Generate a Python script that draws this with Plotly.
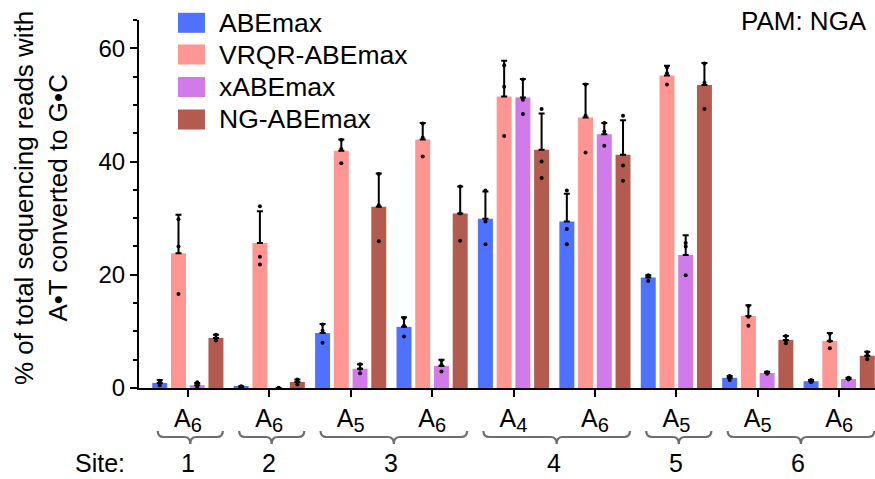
import plotly.graph_objects as go

# ---------------- data ----------------
group_subs = ["6", "6", "5", "6", "4", "6", "5", "5", "6"]
site_names = ["1", "2", "3", "4", "5", "6"]
site_groups = [[0], [1], [2, 3], [4, 5], [6], [7, 8]]

series_names = ["ABEmax", "VRQR-ABEmax", "xABEmax", "NG-ABEmax"]
series_colors = ["#4F71FF", "#FF9691", "#D17BEA", "#B25B4E"]

abemax_mean = [0.9, 0.2, 9.7, 10.8, 29.9, 29.4, 19.5, 1.8, 1.2]
abemax_sd = [0.5, 0.1, 1.6, 1.7, 4.8, 4.9, 0.4, 0.3, 0.2]
abemax_reps = [[1.3, 1.0, 0.5], [0.3, 0.2, 0.1], [11.2, 10.1, 8.0], [12.3, 11.0, 9.1],
               [34.9, 29.4, 25.4], [34.9, 28.1, 25.4], [19.9, 19.7, 18.9], [2.1, 1.9, 1.4],
               [1.4, 1.2, 1.0]]

vrqr_mean = [23.8, 25.6, 41.9, 43.9, 51.5, 47.8, 55.2, 12.7, 8.3]
vrqr_sd = [6.8, 5.6, 2.0, 2.9, 6.3, 5.9, 1.7, 1.9, 1.4]
vrqr_reps = [[29.8, 25.0, 16.6], [32.1, 23.2, 21.8], [43.8, 42.2, 39.7], [46.7, 44.2, 40.9],
             [57.0, 53.2, 44.5], [53.6, 48.1, 41.6], [56.6, 55.6, 53.6], [14.5, 12.6, 11.0],
             [9.6, 8.3, 7.0]]

xabe_mean = [0.5, 0.0, 3.4, 3.9, 51.3, 44.8, 23.5, 2.65, 1.6]
xabe_sd = [0.4, 0.0, 0.8, 1.1, 3.3, 2.0, 3.5, 0.2, 0.2]
xabe_reps = [[1.0, 0.5, 0.1], [0.0, 0.0, 0.0], [4.2, 3.4, 2.6], [4.8, 4.1, 2.9],
             [54.5, 50.9, 48.4], [46.8, 45.3, 42.8], [25.6, 25.0, 19.9], [2.8, 2.7, 2.5],
             [1.8, 1.6, 1.5]]

ng_mean = [8.85, 1.06, 32.0, 30.8, 42.1, 41.2, 53.5, 8.5, 5.7]
ng_sd = [0.55, 0.45, 5.9, 4.8, 6.4, 6.1, 3.9, 0.7, 0.7]
ng_reps = [[9.4, 8.8, 8.4], [1.5, 1.1, 0.6], [37.8, 32.3, 25.9], [35.6, 30.8, 26.0],
           [49.3, 40.0, 37.1], [48.1, 39.3, 36.6], [57.3, 53.9, 49.3], [9.2, 8.4, 7.9],
           [6.3, 5.7, 5.1]]

y_ticks = [0, 20, 40, 60]
y_title = "% of total sequencing reads with<br>A\u2022T converted to G\u2022C"
pam_label = "PAM: NGA"
site_prefix = "Site:"

means = [abemax_mean, vrqr_mean, xabe_mean, ng_mean]
sds = [abemax_sd, vrqr_sd, xabe_sd, ng_sd]
reps = [abemax_reps, vrqr_reps, xabe_reps, ng_reps]

# ---------------- layout constants ----------------
W, H = 875, 479
L, R, T, B = 139, 0, 20, 91
PH = H - T - B
FONT = "Liberation Sans, Arial, Helvetica, sans-serif"
BARGAP = 0.08
BARGROUPGAP = 0.2
NS = len(series_names)
slot = (1 - BARGAP) / NS

group_labels = [f"A<sub><span style='font-size:20px'>{s}</span></sub>" for s in group_subs]


def py(p):
    """pixel row -> paper y"""
    return (H - B - p) / PH


def px(p):
    return (p - L) / (W - L - R)


fig = go.Figure()
xs = list(range(len(group_subs)))

for k in range(NS):
    fig.add_trace(go.Bar(
        x=xs, y=means[k], name=series_names[k],
        marker=dict(color=series_colors[k], line=dict(width=0)),
        error_y=dict(type="data", symmetric=False, array=sds[k],
                     arrayminus=[0] * len(xs), color="black", thickness=2, width=3),
        showlegend=False,
    ))

for k in range(NS):
    off = (k - (NS - 1) / 2) * slot
    dx, dy = [], []
    for i in xs:
        for v in reps[k][i]:
            dx.append(i + off)
            dy.append(v)
    fig.add_trace(go.Scatter(x=dx, y=dy, mode="markers",
                             marker=dict(color="black", size=4),
                             showlegend=False, hoverinfo="skip"))

shapes = []
annotations = []

# manual legend
leg_rows = [22.8, 54.5, 87, 119.5]
for k in range(NS):
    yc = leg_rows[k]
    shapes.append(dict(type="rect", xref="paper", yref="paper",
                       x0=px(178), x1=px(205), y0=py(yc + 10), y1=py(yc - 10),
                       fillcolor=series_colors[k], line=dict(width=0)))
    annotations.append(dict(xref="paper", yref="paper", x=px(217), y=py(yc),
                            xanchor="left", yanchor="middle", showarrow=False,
                            text=series_names[k], font=dict(size=26.5, color="black", family=FONT)))

annotations.append(dict(xref="paper", yref="paper", x=px(869), y=py(21),
                        xanchor="right", yanchor="middle", showarrow=False,
                        text=pam_label, font=dict(size=26, color="black", family=FONT)))

# y title
annotations.append(dict(xref="paper", yref="paper", x=px(41), y=py(198),
                        xanchor="center", yanchor="middle", showarrow=False, textangle=-90,
                        text=y_title, font=dict(size=26, color="black", family=FONT)))

# site brackets
y_end, y_line, y_tip = py(431), py(437), py(444)
cx = 6 / 81.4
for s, gs in enumerate(site_groups):
    x0 = gs[0] - 0.37
    x1 = gs[-1] + 0.43
    xm = (x0 + x1) / 2
    path = (f"M {x0},{y_end} Q {x0},{y_line} {x0 + cx},{y_line} "
            f"L {xm - cx},{y_line} Q {xm},{y_line} {xm},{y_tip} "
            f"Q {xm},{y_line} {xm + cx},{y_line} "
            f"L {x1 - cx},{y_line} Q {x1},{y_line} {x1},{y_end}")
    shapes.append(dict(type="path", xref="x", yref="paper", path=path,
                       line=dict(color="#6E6E6E", width=2.2)))
    annotations.append(dict(xref="x", yref="paper", x=sum(gs) / len(gs), y=py(463),
                            xanchor="center", yanchor="middle", showarrow=False,
                            text=site_names[s], font=dict(size=25, color="black", family=FONT)))

annotations.append(dict(xref="paper", yref="paper", x=px(100), y=py(463),
                        xanchor="center", yanchor="middle", showarrow=False,
                        text=site_prefix, font=dict(size=25, color="black", family=FONT)))

fig.update_layout(
    width=W, height=H,
    margin=dict(l=L, r=R, t=T, b=B, pad=0),
    paper_bgcolor="white", plot_bgcolor="white",
    barmode="group", bargap=BARGAP, bargroupgap=BARGROUPGAP,
    font=dict(family=FONT, color="black"),
    shapes=shapes, annotations=annotations,
    showlegend=False,
    xaxis=dict(range=[-0.6, 8.44], tickmode="array", tickvals=xs, ticktext=group_labels,
               showline=True, linecolor="black", linewidth=2, ticks="outside",
               ticklen=7, tickwidth=2, tickcolor="black", showgrid=False, zeroline=False,
               tickfont=dict(size=25, family=FONT, color="black")),
    yaxis=dict(range=[0, 65], tickmode="array", tickvals=y_ticks,
               showline=True, linecolor="black", linewidth=2, ticks="outside",
               ticklen=7, tickwidth=2, tickcolor="black", showgrid=False, zeroline=False,
               minor=dict(dtick=5, ticks="outside", ticklen=4, tickwidth=2, tickcolor="black"),
               tickfont=dict(size=24, family=FONT, color="black")),
)

fig.write_html("out.html")
